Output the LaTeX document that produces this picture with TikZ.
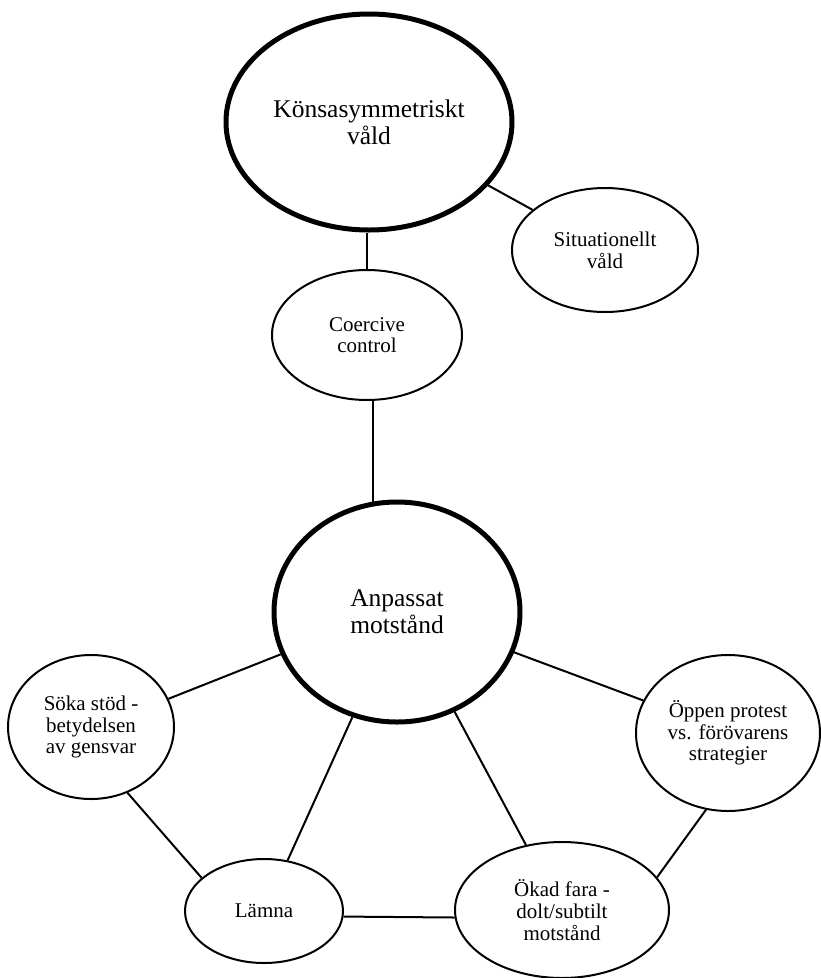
\documentclass[tikz,border=0pt]{standalone}
\usepackage{fontspec}
\setmainfont{Liberation Serif}
\usetikzlibrary{shapes.geometric}
\begin{document}
\begin{tikzpicture}[x=1pt,y=-1pt,
  bigell/.style={ellipse,draw=black,line width=5pt,inner sep=0pt,align=center,
    font=\fontsize{25.5}{27}\selectfont},
  smallell/.style={ellipse,draw=black,line width=2pt,inner sep=0pt,align=center,
    font=\fontsize{21}{21.7}\selectfont},
  conn/.style={draw=black,line width=2pt}]
\useasboundingbox[fill=white] (0,0) rectangle (820,978);
\node[bigell,minimum width=286pt,minimum height=216pt] (top) at (369,122) {Könsasymmetriskt\\våld};
\node[smallell,minimum width=186pt,minimum height=124pt] (sit) at (605,250) {Situationellt\\våld};
\node[smallell,minimum width=190pt,minimum height=130pt] (coe) at (367,335) {Coercive\\control};
\node[bigell,minimum width=246pt,minimum height=220pt] (anp) at (397,612) {Anpassat\\motstånd};
\node[smallell,minimum width=166pt,minimum height=144pt] (sok) at (91,727) {Söka stöd -\\betydelsen\\av gensvar};
\node[smallell,minimum width=184pt,minimum height=156pt] (opp) at (728,733) {Öppen protest\\vs. förövarens\\strategier};
\node[smallell,minimum width=158pt,minimum height=104pt] (lam) at (264,911) {Lämna};
\node[smallell,minimum width=214pt,minimum height=136pt] (oka) at (562,910) {Ökad fara -\\dolt/subtilt\\motstånd};
\draw[conn] (coe.north |- top.south) -- (coe.north);
\draw[conn] (top.-28.8) -- (sit.151.3);
\draw[conn] (coe.-85.6) -- (coe.-85.6 |- anp.102.8);
\draw[conn] (anp.200.7) -- (sok.20.2);
\draw[conn] (anp.247.1) -- (lam.65.7);
\draw[conn] (anp.-60.8) -- (oka.119);
\draw[conn] (anp.-19.5) -- (opp.159.4);
\draw[conn] (sok.-61.4) -- (lam.152.7);
\draw[conn] (lam.-4) -- (oka.184.3);
\draw[conn] (opp.-106.6) -- (oka.19.7);
\end{tikzpicture}
\end{document}
